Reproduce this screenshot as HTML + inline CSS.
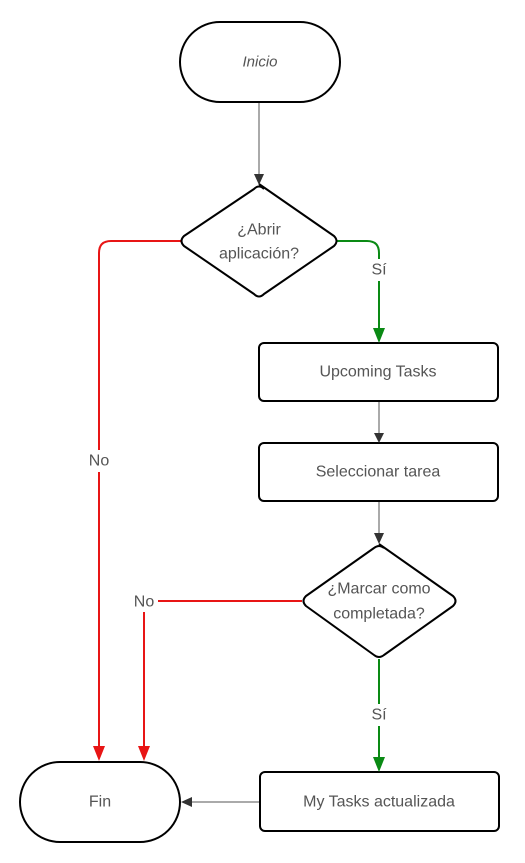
<!DOCTYPE html>
<html><head><style>
body{margin:0;background:#fff;}
svg text{font-family:"Liberation Sans",sans-serif;fill:#555;font-size:16px;text-anchor:middle;dominant-baseline:central;}
</style></head><body>
<svg width="525" height="858" viewBox="0 0 525 858" xmlns="http://www.w3.org/2000/svg">
<g fill="none" stroke-width="1">
<path d="M259 102 V176" stroke="#555"/>
<path d="M379 401 V435" stroke="#555"/>
<path d="M379 501 V536" stroke="#555"/>
<path d="M260 802 H190" stroke="#555"/>
</g>
<g fill="none" stroke-width="2">
<path d="M181 241 H111 Q99 241 99 253 V750" stroke="#e81515"/>
<path d="M302 601 H144 V750" stroke="#e81515"/>
<path d="M337 241 H367 Q379 241 379 253 V330" stroke="#0a8a14"/>
<path d="M379 659 V760" stroke="#0a8a14"/>
</g>
<g fill="#fff" stroke="#000" stroke-width="2">
<rect x="180" y="22" width="160" height="80" rx="40"/>
<path d="M259 184 L334 236 Q339 241 334 246 L264 294 Q259 299 254 294 L184 246 Q179 241 184 236 L254 189 Q259 184 264 189" stroke-linejoin="round"/>
<rect x="259" y="343" width="239" height="58" rx="5"/>
<rect x="259" y="443" width="239" height="58" rx="5"/>
<path d="M379 544 L453 596 Q458 601 453 606 L384 655 Q379 659 374 655 L306 606 Q301 601 306 596 L374 548 Q379 544 384 548" stroke-linejoin="round"/>
<rect x="20" y="762" width="160" height="80" rx="40"/>
<rect x="260" y="772" width="239" height="59" rx="5"/>
</g>
<g>
<polygon points="254,174 264,174 259,185" fill="#333"/>
<polygon points="374,433 384,433 379,443" fill="#333"/>
<polygon points="374,533 384,533 379,544" fill="#333"/>
<polygon points="192,797 192,807 181,802" fill="#333"/>
<polygon points="93,746 105,746 99,761" fill="#e81515"/>
<polygon points="138,746 150,746 144,761" fill="#e81515"/>
<polygon points="373,328 385,328 379,343" fill="#0a8a14"/>
<polygon points="373,757 385,757 379,772" fill="#0a8a14"/>
</g>
<rect x="86" y="450" width="26" height="22" fill="#fff"/>
<rect x="130" y="592" width="28" height="20" fill="#fff"/>
<rect x="368" y="259" width="22" height="22" fill="#fff"/>
<rect x="368" y="704" width="22" height="22" fill="#fff"/>
<text x="260" y="62" style="font-style:italic;font-size:15px">Inicio</text>
<text x="259" y="230">¿Abrir</text>
<text x="259" y="254">aplicación?</text>
<text x="378" y="372">Upcoming Tasks</text>
<text x="378" y="472">Seleccionar tarea</text>
<text x="379" y="589">¿Marcar como</text>
<text x="379" y="614">completada?</text>
<text x="100" y="802">Fin</text>
<text x="379" y="802">My Tasks actualizada</text>
<text x="99" y="461">No</text>
<text x="144" y="602">No</text>
<text x="379" y="270">Sí</text>
<text x="379" y="715">Sí</text>
</svg>
</body></html>
